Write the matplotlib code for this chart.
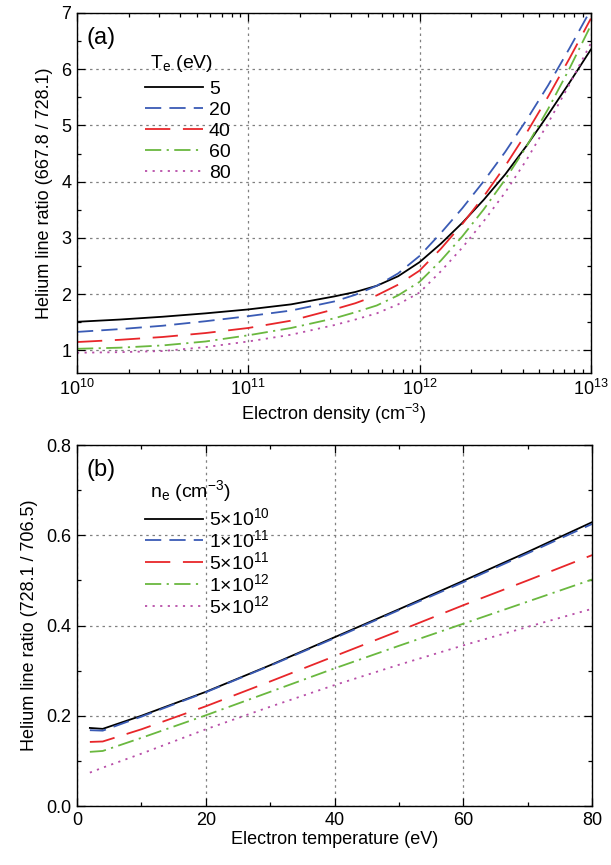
import numpy as np
import matplotlib
matplotlib.use('Agg')
import matplotlib.pyplot as plt
from matplotlib.ticker import MultipleLocator, LogLocator, NullFormatter, FormatStrFormatter

plt.rcParams.update({
    'font.family': ['Liberation Sans', 'DejaVu Sans'],
    'mathtext.fontset': 'custom',
    'mathtext.rm': 'Liberation Sans',
    'mathtext.it': 'Liberation Sans:italic',
    'mathtext.bf': 'Liberation Sans:bold',
    'font.size': 13,
})

# ---------------- Panel (a) data ----------------
log_density = [10, 10.25, 10.5, 10.75, 11, 11.25, 11.5, 11.625, 11.75, 11.875,
               12, 12.125, 12.25, 12.375, 12.5, 12.625, 12.75, 12.875, 13]
te_labels = ['5', '20', '40', '60', '80']
ratio_te5 = [1.51, 1.55, 1.60, 1.66, 1.73, 1.82, 1.96, 2.04, 2.15, 2.32,
             2.57, 2.90, 3.27, 3.68, 4.13, 4.64, 5.19, 5.76, 6.35]
ratio_te20 = [1.33, 1.38, 1.44, 1.52, 1.61, 1.71, 1.87, 1.99, 2.15, 2.37,
              2.68, 3.09, 3.53, 4.01, 4.53, 5.10, 5.71, 6.37, 7.06]
ratio_te40 = [1.15, 1.19, 1.24, 1.31, 1.40, 1.53, 1.73, 1.84, 1.98, 2.17,
              2.42, 2.81, 3.25, 3.74, 4.28, 4.87, 5.51, 6.19, 6.90]
ratio_te60 = [1.03, 1.05, 1.09, 1.16, 1.27, 1.40, 1.57, 1.68, 1.80, 1.98,
              2.22, 2.60, 3.03, 3.51, 4.04, 4.63, 5.29, 6.01, 6.78]
ratio_te80 = [0.96, 0.97, 0.99, 1.06, 1.16, 1.28, 1.45, 1.55, 1.66, 1.82,
              2.03, 2.41, 2.83, 3.30, 3.81, 4.39, 5.04, 5.73, 6.46]

# ---------------- Panel (b) data ----------------
temperature = [2, 4, 10, 20, 30, 40, 50, 60, 70, 80]
ne_labels = [r'5$\times$10$^{10}$', r'1$\times$10$^{11}$', r'5$\times$10$^{11}$',
             r'1$\times$10$^{12}$', r'5$\times$10$^{12}$']
ratio_ne5e10 = [0.173, 0.171, 0.200, 0.253, 0.312, 0.374, 0.436, 0.499, 0.563, 0.629]
ratio_ne1e11 = [0.168, 0.167, 0.198, 0.252, 0.311, 0.372, 0.434, 0.496, 0.560, 0.625]
ratio_ne5e11 = [0.142, 0.143, 0.170, 0.221, 0.276, 0.332, 0.388, 0.445, 0.500, 0.556]
ratio_ne1e12 = [0.120, 0.122, 0.151, 0.201, 0.253, 0.305, 0.355, 0.404, 0.453, 0.502]
ratio_ne5e12 = [0.074, 0.085, 0.116, 0.170, 0.220, 0.268, 0.313, 0.356, 0.397, 0.437]

colors = ['black', '#3a5bb5', '#e8262a', '#6ab83f', '#b84ea8']
linestyles = ['-', (0, (9, 4.5)), (0, (14, 7)), (0, (9, 3, 1.2, 3)), (0, (1.2, 3))]
LW = 1.3
TICK_FS = 13
LAB_FS = 13
LEG_FS = 14

fig = plt.figure(figsize=(6.11, 8.65), dpi=100)
ax1 = fig.add_axes([0.126, 0.5688, 0.841, 0.4162])
ax2 = fig.add_axes([0.126, 0.0682, 0.843, 0.4173])

density = 10.0 ** np.array(log_density)
for lab, ys, c, ls in zip(te_labels, [ratio_te5, ratio_te20, ratio_te40, ratio_te60, ratio_te80],
                          colors, linestyles):
    ax1.plot(density, ys, color=c, ls=ls, lw=LW, label=lab)

for lab, ys, c, ls in zip(ne_labels, [ratio_ne5e10, ratio_ne1e11, ratio_ne5e11, ratio_ne1e12, ratio_ne5e12],
                          colors, linestyles):
    ax2.plot(temperature, ys, color=c, ls=ls, lw=LW, label=lab)

# axes (a)
ax1.set_xscale('log')
ax1.set_xlim(1e10, 1e13)
ax1.set_ylim(0.6, 7)
ax1.yaxis.set_major_locator(MultipleLocator(1))
ax1.yaxis.set_minor_locator(MultipleLocator(0.5))
ax1.xaxis.set_major_locator(LogLocator(base=10, numticks=10))
ax1.xaxis.set_minor_locator(LogLocator(base=10, subs=np.arange(2, 10), numticks=10))
ax1.xaxis.set_minor_formatter(NullFormatter())
ax1.set_xlabel(r'Electron density (cm$^{-3}$)', labelpad=2, fontsize=LAB_FS)
ax1.set_ylabel('Helium line ratio (667.8 / 728.1)', labelpad=6, fontsize=LAB_FS)

# axes (b)
ax2.set_xlim(0, 80)
ax2.set_ylim(0, 0.8)
ax2.xaxis.set_major_locator(MultipleLocator(20))
ax2.xaxis.set_minor_locator(MultipleLocator(10))
ax2.yaxis.set_major_locator(MultipleLocator(0.2))
ax2.yaxis.set_minor_locator(MultipleLocator(0.1))
ax2.yaxis.set_major_formatter(FormatStrFormatter('%.1f'))
ax2.set_xlabel('Electron temperature (eV)', labelpad=2, fontsize=LAB_FS)
ax2.set_ylabel('Helium line ratio (728.1 / 706.5)', labelpad=6, fontsize=LAB_FS)

for ax in (ax1, ax2):
    ax.grid(True, which='major', color='#808080', ls=(0, (2, 3)), lw=0.9)
    ax.tick_params(which='both', direction='in', top=True, right=True, width=0.9)
    ax.tick_params(which='major', length=6, labelsize=TICK_FS)
    ax.tick_params(which='minor', length=3)
    ax.tick_params(axis='x', pad=4)
    ax.tick_params(axis='y', pad=4)
    for sp in ax.spines.values():
        sp.set_linewidth(1.0)

ax1.text(0.019, 0.962, '(a)', transform=ax1.transAxes, fontsize=17, va='top', ha='left')
ax2.text(0.019, 0.962, '(b)', transform=ax2.transAxes, fontsize=17, va='top', ha='left')

# legend titles drawn as text, legends below them
ax1.text(0.142, 0.861, r'T$_\mathrm{e}$ (eV)', transform=ax1.transAxes, fontsize=LEG_FS,
         va='center', ha='left')
ax1.legend(loc='upper left', bbox_to_anchor=(0.132, 0.814), frameon=False,
           handlelength=3.0, handletextpad=0.3, labelspacing=0.18, borderpad=0,
           borderaxespad=0, fontsize=LEG_FS)

ax2.text(0.142, 0.872, r'n$_\mathrm{e}$ (cm$^{-3}$)', transform=ax2.transAxes, fontsize=LEG_FS,
         va='center', ha='left')
ax2.legend(loc='upper left', bbox_to_anchor=(0.132, 0.827), frameon=False,
           handlelength=3.0, handletextpad=0.3, labelspacing=0.0, borderpad=0,
           borderaxespad=0, fontsize=LEG_FS)

fig.savefig('out.png', dpi=100)
